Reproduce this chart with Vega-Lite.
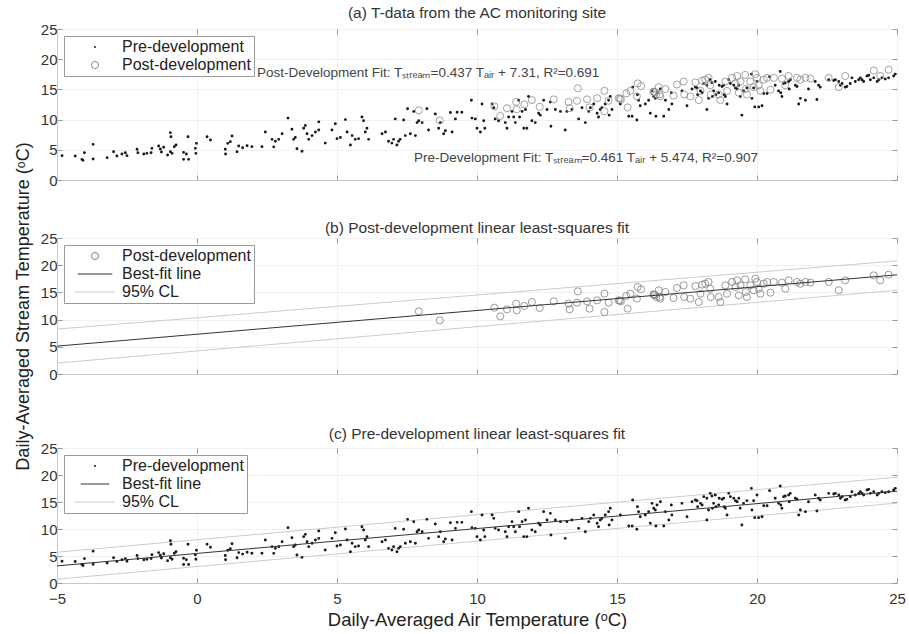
{
"$schema":"https://vega.github.io/schema/vega-lite/v6.json",
"padding":{"left":13,"top":5,"right":0,"bottom":0},
"datasets":{
"pre":[{"x":-4.82,"y":4.03},{"x":-4.35,"y":3.97},{"x":-4.11,"y":3.42},{"x":-4.07,"y":3.25},{"x":-4.02,"y":4.52},{"x":-3.71,"y":5.9},{"x":-3.71,"y":3.48},{"x":-3.21,"y":3.7},{"x":-2.98,"y":4.69},{"x":-2.86,"y":3.97},{"x":-2.68,"y":4.3},{"x":-2.56,"y":4.52},{"x":-2.5,"y":4.03},{"x":-2.14,"y":5.08},{"x":-2.11,"y":4.52},{"x":-1.9,"y":4.3},{"x":-1.79,"y":4.41},{"x":-1.64,"y":4.52},{"x":-1.61,"y":5.24},{"x":-1.37,"y":5.63},{"x":-1.31,"y":5.13},{"x":-1.27,"y":4.63},{"x":-1.19,"y":5.41},{"x":-1.05,"y":4.14},{"x":-0.95,"y":7.84},{"x":-0.93,"y":7.17},{"x":-0.95,"y":4.69},{"x":-0.89,"y":4.41},{"x":-0.81,"y":5.52},{"x":-0.75,"y":5.79},{"x":-0.48,"y":3.42},{"x":-0.3,"y":3.42},{"x":-0.48,"y":4.58},{"x":-0.38,"y":4.3},{"x":-0.32,"y":7.17},{"x":-0.06,"y":5.24},{"x":-0.04,"y":4.41},{"x":-0.02,"y":6.07},{"x":0.36,"y":7.17},{"x":0.48,"y":6.62},{"x":1.01,"y":5.08},{"x":1.02,"y":4.3},{"x":1.1,"y":6.07},{"x":1.19,"y":6.35},{"x":1.25,"y":7.28},{"x":1.43,"y":4.69},{"x":1.49,"y":5.63},{"x":1.63,"y":5.35},{"x":1.79,"y":5.68},{"x":1.96,"y":5.52},{"x":2.32,"y":5.52},
{"x":2.44,"y":7.96},{"x":2.68,"y":6.73},{"x":2.8,"y":6.42},{"x":2.92,"y":6.73},{"x":2.74,"y":5.49},{"x":3.04,"y":7.65},{"x":3.25,"y":10.25},{"x":3.39,"y":8.39},{"x":3.45,"y":6.73},{"x":3.51,"y":7.04},{"x":3.57,"y":5.18},{"x":3.75,"y":4.75},{"x":3.81,"y":8.58},{"x":3.87,"y":9.01},{"x":3.93,"y":7.65},{"x":3.99,"y":6.73},{"x":4.11,"y":7.35},{"x":4.23,"y":7.96},{"x":4.35,"y":8.27},{"x":4.35,"y":9.63},{"x":4.58,"y":6.11},{"x":4.82,"y":8.27},{"x":4.94,"y":9.32},{"x":5.0,"y":6.85},{"x":5.12,"y":7.04},{"x":5.3,"y":10.0},{"x":5.36,"y":7.96},{"x":5.48,"y":5.8},{"x":5.54,"y":7.35},{"x":5.65,"y":6.73},{"x":5.77,"y":6.85},{"x":5.89,"y":10.43},{"x":5.95,"y":9.81},{"x":6.01,"y":7.96},{"x":6.07,"y":8.58},{"x":6.13,"y":6.73},{"x":6.61,"y":7.65},{"x":6.73,"y":7.96},{"x":6.84,"y":6.42},{"x":6.96,"y":6.11},{"x":7.02,"y":6.73},{"x":7.08,"y":10.12},{"x":7.14,"y":5.8},{"x":7.2,"y":6.42},{"x":7.26,"y":6.73},{"x":7.38,"y":9.94},{"x":7.44,"y":7.35},{"x":7.52,"y":11.79},{"x":7.74,"y":11.36},{"x":7.62,"y":7.65},{"x":7.8,"y":7.35},{"x":7.86,"y":9.5},{"x":7.92,"y":9.81},{"x":8.04,"y":9.5},{"x":8.21,"y":11.79},{"x":8.27,"y":8.27},{"x":8.51,"y":10.92},{"x":8.63,"y":8.58},{"x":8.69,"y":9.5},{"x":8.81,"y":7.65},{"x":8.87,"y":8.15},{"x":9.05,"y":11.17},{"x":9.11,"y":7.96},{"x":9.23,"y":10.12},{"x":9.29,"y":11.23},{"x":9.46,"y":11.23},{"x":9.8,"y":13.21},{"x":9.82,"y":10.25},
{"x":9.94,"y":10.12},{"x":10.18,"y":12.59},{"x":10.24,"y":9.81},{"x":10.0,"y":8.58},{"x":10.12,"y":7.96},{"x":10.28,"y":8.58},{"x":10.54,"y":12.59},{"x":10.6,"y":11.97},{"x":10.65,"y":10.12},{"x":10.77,"y":9.81},{"x":11.01,"y":9.5},{"x":11.07,"y":8.58},{"x":11.13,"y":10.43},{"x":11.25,"y":11.36},{"x":11.31,"y":10.43},{"x":11.37,"y":9.5},{"x":11.49,"y":13.21},{"x":11.52,"y":10.43},{"x":11.61,"y":11.36},{"x":11.73,"y":11.67},{"x":11.84,"y":13.83},{"x":11.67,"y":8.58},{"x":11.78,"y":8.58},{"x":11.96,"y":9.81},{"x":12.08,"y":9.5},{"x":12.2,"y":11.05},{"x":12.26,"y":10.74},{"x":12.38,"y":13.21},{"x":12.5,"y":11.67},{"x":12.62,"y":12.9},{"x":12.64,"y":8.89},{"x":12.8,"y":11.67},{"x":12.98,"y":11.36},{"x":13.15,"y":8.27},{"x":13.21,"y":11.36},{"x":13.39,"y":11.67},{"x":13.63,"y":10.12},{"x":13.75,"y":11.97},{"x":13.87,"y":9.5},{"x":13.99,"y":11.36},{"x":14.05,"y":11.97},{"x":14.17,"y":12.59},{"x":14.29,"y":11.05},{"x":14.34,"y":10.43},{"x":14.4,"y":11.67},{"x":14.46,"y":11.97},{"x":14.58,"y":12.59},{"x":14.7,"y":13.21},{"x":14.76,"y":13.83},{"x":14.72,"y":10.74},{"x":14.82,"y":11.67},{"x":15.12,"y":12.59},{"x":15.42,"y":10.55},{"x":15.54,"y":10.55},{"x":15.71,"y":9.94},{"x":15.56,"y":15.37},{"x":15.73,"y":14.13},{"x":15.77,"y":13.21},{"x":15.83,"y":12.28},{"x":16.01,"y":12.59},{"x":16.13,"y":13.21},{"x":16.25,"y":14.75},{"x":16.31,"y":13.83},{"x":16.37,"y":13.52},{"x":16.43,"y":14.44},{"x":16.19,"y":11.05},{"x":16.39,"y":10.55},{"x":16.55,"y":15.06},{"x":16.67,"y":10.55},{"x":16.73,"y":13.21},{"x":16.85,"y":11.67},{"x":16.94,"y":14.44},{"x":16.96,"y":12.59},{"x":17.32,"y":14.75},
{"x":17.5,"y":12.28},{"x":17.68,"y":15.06},{"x":17.8,"y":15.37},{"x":17.86,"y":15.25},{"x":17.88,"y":14.13},{"x":17.98,"y":14.75},{"x":18.04,"y":14.44},{"x":18.1,"y":15.99},{"x":18.21,"y":15.68},{"x":18.33,"y":16.6},{"x":18.39,"y":16.11},{"x":18.51,"y":16.3},{"x":18.21,"y":11.67},{"x":18.27,"y":13.52},{"x":18.41,"y":13.83},{"x":18.45,"y":14.75},{"x":18.53,"y":14.13},{"x":18.63,"y":14.44},{"x":18.65,"y":15.68},{"x":18.75,"y":15.49},{"x":18.81,"y":15.68},{"x":18.83,"y":14.13},{"x":18.87,"y":13.83},{"x":18.93,"y":12.59},{"x":18.99,"y":16.6},{"x":19.05,"y":15.99},{"x":19.17,"y":15.68},{"x":19.23,"y":15.25},{"x":19.29,"y":15.06},{"x":19.35,"y":15.68},{"x":19.4,"y":13.83},{"x":19.46,"y":10.74},{"x":19.52,"y":14.75},{"x":19.64,"y":15.25},{"x":19.8,"y":17.53},{"x":19.82,"y":13.52},{"x":19.88,"y":15.25},{"x":19.92,"y":12.1},{"x":20.06,"y":12.1},{"x":20.18,"y":12.28},{"x":20.0,"y":16.3},{"x":20.24,"y":14.32},{"x":20.36,"y":14.32},{"x":20.45,"y":17.1},{"x":20.65,"y":15.68},{"x":20.77,"y":14.75},{"x":20.83,"y":17.96},{"x":20.85,"y":14.44},{"x":20.89,"y":13.83},{"x":20.95,"y":15.99},{"x":21.01,"y":16.11},{"x":21.13,"y":16.3},{"x":21.19,"y":16.6},{"x":21.15,"y":15.06},{"x":21.37,"y":15.68},{"x":21.43,"y":15.49},{"x":21.49,"y":12.59},{"x":21.55,"y":13.52},{"x":21.73,"y":13.21},{"x":21.84,"y":15.06},{"x":22.08,"y":16.3},{"x":22.14,"y":13.33},{"x":22.2,"y":15.68},{"x":22.26,"y":15.37},{"x":22.56,"y":16.6},{"x":22.74,"y":16.48},{"x":22.8,"y":16.6},{"x":22.92,"y":16.3},{"x":22.98,"y":15.68},{"x":23.04,"y":15.99},{"x":23.15,"y":15.37},{"x":23.21,"y":15.49},{"x":23.33,"y":15.99},{"x":23.39,"y":16.91},{"x":23.51,"y":16.3},{"x":23.63,"y":16.6},{"x":23.69,"y":16.91},{"x":23.75,"y":16.6},{"x":23.81,"y":16.3},{"x":23.93,"y":17.22},{"x":23.99,"y":17.34},{"x":24.05,"y":16.6},{"x":24.17,"y":16.91},{"x":24.29,"y":16.3},{"x":24.35,"y":16.6},{"x":24.46,"y":16.91},{"x":24.58,"y":16.73},{"x":24.7,"y":16.91},{"x":24.88,"y":17.22},{"x":24.94,"y":17.53}],
"post":[{"x":7.92,"y":11.52},{"x":8.67,"y":9.86},{"x":10.62,"y":12.19},{"x":10.83,"y":10.6},{"x":11.07,"y":11.88},{"x":11.4,"y":12.93},{"x":11.42,"y":11.7},{"x":11.69,"y":12.5},{"x":11.96,"y":13.23},{"x":12.24,"y":12.13},{"x":12.74,"y":13.35},{"x":13.27,"y":12.93},{"x":13.31,"y":11.88},{"x":13.6,"y":15.19},{"x":13.57,"y":13.11},{"x":13.93,"y":13.35},{"x":14.02,"y":12.01},{"x":14.29,"y":13.54},{"x":14.55,"y":14.76},{"x":14.55,"y":11.39},{"x":14.7,"y":13.11},{"x":15.06,"y":13.54},{"x":15.14,"y":13.35},{"x":15.1,"y":13.5},{"x":15.33,"y":14.34},{"x":15.38,"y":12.01},{"x":15.48,"y":14.76},{"x":15.71,"y":13.85},{"x":15.74,"y":15.99},{"x":15.86,"y":15.56},{"x":16.33,"y":14.58},{"x":16.3,"y":14.62},{"x":16.35,"y":14.5},{"x":16.4,"y":14.15},{"x":16.49,"y":15.38},{"x":16.55,"y":13.85},{"x":16.52,"y":14.15},{"x":16.73,"y":15.07},{"x":17.02,"y":13.97},{"x":17.14,"y":15.81},{"x":17.38,"y":16.3},{"x":17.4,"y":14.15},{"x":17.62,"y":13.85},{"x":17.8,"y":16.17},{"x":17.92,"y":13.23},{"x":17.98,"y":14.76},{"x":18.04,"y":16.42},{"x":18.15,"y":16.6},{"x":18.27,"y":16.91},{"x":18.33,"y":15.68},{"x":18.35,"y":14.15},{"x":18.63,"y":14.15},{"x":18.69,"y":13.23},{"x":18.87,"y":16.3},{"x":18.93,"y":14.76},{"x":19.11,"y":16.91},{"x":19.23,"y":15.99},{"x":19.29,"y":17.22},{"x":19.35,"y":14.46},{"x":19.41,"y":16.3},{"x":19.58,"y":17.4},{"x":19.6,"y":15.07},{"x":19.64,"y":14.15},{"x":19.76,"y":16.3},{"x":19.88,"y":15.38},{"x":19.94,"y":17.52},{"x":20.0,"y":16.91},{"x":20.06,"y":15.68},{"x":20.12,"y":14.76},{"x":20.24,"y":16.6},{"x":20.36,"y":16.91},{"x":20.48,"y":14.95},{"x":20.6,"y":16.91},{"x":20.89,"y":16.79},{"x":21.01,"y":15.68},{"x":21.13,"y":17.22},{"x":21.43,"y":16.91},{"x":21.55,"y":16.6},{"x":21.73,"y":16.91},{"x":21.91,"y":16.79},{"x":22.56,"y":16.91},{"x":22.92,"y":15.38},{"x":23.15,"y":17.22},{"x":24.17,"y":18.13},{"x":24.4,"y":17.22},{"x":24.7,"y":18.26}],
"postFit":[{"x":-5,"y":5.125},{"x":25,"y":18.235}],
"postCL":[{"g":"u","x":-5,"y":8.25},{"g":"u","x":25,"y":20.8},{"g":"l","x":-5,"y":2.0},{"g":"l","x":25,"y":15.4}],
"preFit":[{"x":-5,"y":3.17},{"x":25,"y":17.0}],
"preCL":[{"g":"u","x":-5,"y":5.7},{"g":"u","x":25,"y":19.6},{"g":"l","x":-5,"y":0.7},{"g":"l","x":25,"y":14.8}]
},
"spacing":8,
"bounds":"flush",
"resolve":{"scale":{"stroke":"independent","shape":"independent","size":"independent"},"legend":{"stroke":"independent","shape":"independent","size":"independent"}},
"vconcat":[
{"width":840,"height":151,
"title":{"text":"(a) T-data from the AC monitoring site","offset":0.5},
"resolve":{"axis":{"x":"independent","y":"independent"}},
"layer":[
{"data":{"name":"pre"},"mark":{"type":"point","filled":false,"strokeWidth":1.5,"opacity":1},
"encoding":{
"x":{"field":"x","type":"quantitative","scale":{"domain":[-5,25],"nice":false},"axis":{"values":[-5,0,5,10,15,20,25],"labels":false,"title":null}},
"y":{"field":"y","type":"quantitative","scale":{"domain":[0,25],"nice":false},"axis":{"tickCount":5,"labelOverlap":false,"title":null}},
"stroke":{"datum":"Pre-development","type":"nominal","scale":{"domain":["Pre-development","Post-development"],"range":["#1a1a1a","#8a8a8a"]},"legend":{"title":null,"symbolOffset":20,"labelOffset":19}},
"shape":{"datum":"Pre-development","type":"nominal","scale":{"domain":["Pre-development","Post-development"],"range":["circle","circle"]},"legend":{"title":null}},
"size":{"datum":"Pre-development","type":"nominal","scale":{"domain":["Pre-development","Post-development"],"range":[2,50]},"legend":{"title":null}}
}},
{"data":{"name":"post"},"mark":{"type":"point","filled":false,"strokeWidth":0.8,"opacity":1},
"encoding":{
"x":{"field":"x","type":"quantitative","axis":{"orient":"top","values":[-5,0,5,10,15,20,25],"labels":false,"grid":false,"domain":false,"title":null}},
"y":{"field":"y","type":"quantitative","axis":{"orient":"right","tickCount":5,"labels":false,"grid":false,"domain":false,"title":null}},
"stroke":{"datum":"Post-development","type":"nominal"},
"shape":{"datum":"Post-development","type":"nominal"},
"size":{"datum":"Post-development","type":"nominal"}
}},
{"data":{"values":[{"x":2.14,"y":17.7,"t":"Post-Development Fit: Tₛₜᵣₑₐₘ=0.437 Tₐᵢᵣ + 7.31, R²=0.691"},{"x":7.75,"y":3.64,"t":"Pre-Development Fit: Tₛₜᵣₑₐₘ=0.461 Tₐᵢᵣ + 5.474, R²=0.907"}]},
"mark":{"type":"text","align":"left","baseline":"middle","fontSize":13.5,"color":"#444"},
"encoding":{"x":{"field":"x","type":"quantitative","axis":null},"y":{"field":"y","type":"quantitative","axis":null},"text":{"field":"t"}}}
]},
{"width":840,"height":42,"view":{"stroke":null},"data":{"values":[{}]},"mark":{"type":"point","opacity":0},"encoding":{}},
{"width":840,"height":136,
"title":{"text":"(b) Post-development linear least-squares fit","dy":100},
"resolve":{"axis":{"x":"independent","y":"independent"}},
"layer":[
{"data":{"name":"postCL"},"mark":{"type":"line","strokeWidth":1},
"encoding":{
"x":{"field":"x","type":"quantitative","scale":{"domain":[-5,25],"nice":false},"axis":{"values":[-5,0,5,10,15,20,25],"labels":false,"title":null}},
"y":{"field":"y","type":"quantitative","scale":{"domain":[0,25],"nice":false},"axis":{"tickCount":5,"labelOverlap":false,"title":"Daily-Averaged Stream Temperature (ᵒC)","titlePadding":8,"titleFontSize":18}},
"detail":{"field":"g"},
"stroke":{"datum":"95% CL","type":"nominal","scale":{"domain":["Post-development","Best-fit line","95% CL"],"range":["#808080","#333333","#cccccc"]},"legend":{"title":null,"symbolOffset":20,"labelOffset":19}}
}},
{"data":{"name":"post"},"mark":{"type":"point","filled":false,"strokeWidth":0.8,"opacity":1},
"encoding":{
"x":{"field":"x","type":"quantitative","axis":{"orient":"top","values":[-5,0,5,10,15,20,25],"labels":false,"grid":false,"domain":false,"title":null}},
"y":{"field":"y","type":"quantitative","axis":{"orient":"right","tickCount":5,"labels":false,"grid":false,"domain":false,"title":null}},
"stroke":{"datum":"Post-development","type":"nominal"},
"shape":{"datum":"Post-development","type":"nominal","scale":{"domain":["Post-development","Best-fit line","95% CL"],"range":["circle","M-4,0H4","M-4,0H4"]},"legend":{"title":null}},
"size":{"datum":"Post-development","type":"nominal","scale":{"domain":["Post-development","Best-fit line","95% CL"],"range":[50,100,100]},"legend":{"title":null}}
}},
{"data":{"name":"postFit"},"mark":{"type":"line","strokeWidth":1},
"encoding":{
"x":{"field":"x","type":"quantitative","axis":null},
"y":{"field":"y","type":"quantitative","axis":null},
"stroke":{"datum":"Best-fit line","type":"nominal"}
}}
]},
{"width":840,"height":58,"view":{"stroke":null},"data":{"values":[{}]},"mark":{"type":"point","opacity":0},"encoding":{}},
{"width":840,"height":135,
"title":{"text":"(c) Pre-development linear least-squares fit","offset":-1},
"resolve":{"axis":{"x":"independent","y":"independent"}},
"layer":[
{"data":{"name":"preCL"},"mark":{"type":"line","strokeWidth":1},
"encoding":{
"x":{"field":"x","type":"quantitative","scale":{"domain":[-5,25],"nice":false},"axis":{"values":[-5,0,5,10,15,20,25],"labelFlush":false,"title":"Daily-Averaged Air Temperature (ᵒC)","labelPadding":13,"titlePadding":4}},
"y":{"field":"y","type":"quantitative","scale":{"domain":[0,25],"nice":false},"axis":{"tickCount":5,"labelOverlap":false,"title":null}},
"detail":{"field":"g"},
"stroke":{"datum":"95% CL","type":"nominal","scale":{"domain":["Pre-development","Best-fit line","95% CL"],"range":["#1a1a1a","#333333","#cccccc"]},"legend":{"title":null,"symbolOffset":20,"labelOffset":19}}
}},
{"data":{"name":"pre"},"mark":{"type":"point","filled":false,"strokeWidth":1.5,"opacity":1},
"encoding":{
"x":{"field":"x","type":"quantitative","axis":{"orient":"top","values":[-5,0,5,10,15,20,25],"labels":false,"grid":false,"domain":false,"title":null}},
"y":{"field":"y","type":"quantitative","axis":{"orient":"right","tickCount":5,"labels":false,"grid":false,"domain":false,"title":null}},
"stroke":{"datum":"Pre-development","type":"nominal"},
"shape":{"datum":"Pre-development","type":"nominal","scale":{"domain":["Pre-development","Best-fit line","95% CL"],"range":["circle","M-4,0H4","M-4,0H4"]},"legend":{"title":null}},
"size":{"datum":"Pre-development","type":"nominal","scale":{"domain":["Pre-development","Best-fit line","95% CL"],"range":[2,100,100]},"legend":{"title":null}}
}},
{"data":{"name":"preFit"},"mark":{"type":"line","strokeWidth":1},
"encoding":{
"x":{"field":"x","type":"quantitative","axis":null},
"y":{"field":"y","type":"quantitative","axis":null},
"stroke":{"datum":"Best-fit line","type":"nominal"}
}}
]}
],
"config":{
"font":"Liberation Sans",
"view":{"stroke":"#c8c8c8","strokeWidth":1},
"title":{"fontSize":15.5,"fontWeight":"normal","color":"#333","offset":5,"anchor":"middle"},
"axis":{"labelFontSize":15,"labelColor":"#333","labelOverlap":false,"tickColor":"#999","tickSize":-5,"domainColor":"#c8c8c8","gridColor":"#f0f0f0","labelPadding":5,"titleFontWeight":"normal","titleFontSize":18.5,"titleColor":"#222"},
"legend":{"orient":"top-left","offset":7,"strokeColor":"#999","fillColor":"white","padding":3,"labelFontSize":16,"labelColor":"#222","rowPadding":2,"symbolStrokeWidth":1}
}
}
